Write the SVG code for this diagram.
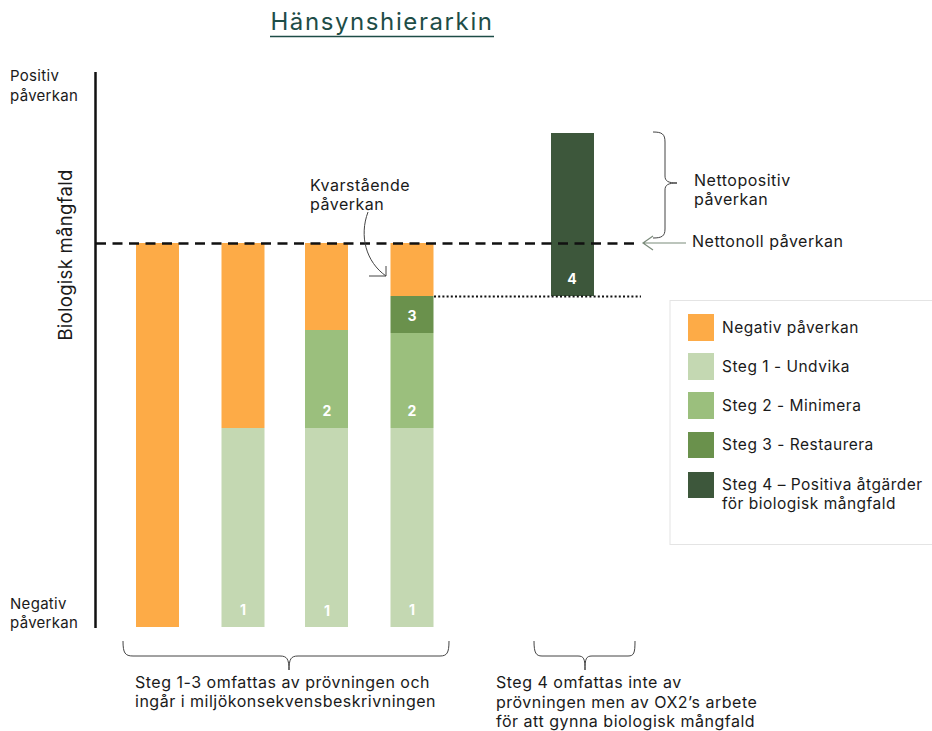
<svg xmlns="http://www.w3.org/2000/svg" width="932" height="731" viewBox="0 0 932 731">
<style>
text{font-family:Inter,"Noto Sans","Liberation Sans",sans-serif;fill:#1a1a1a}
.t{font-size:16px;letter-spacing:0.5px}
.lg{font-size:15.5px;letter-spacing:0.5px}
.ax{font-size:15px;letter-spacing:0.3px}
.num{font-size:14px;font-weight:bold;fill:#fff;text-anchor:middle}
.neg{fill:#fdab47}
.s1{fill:#c4d8b2}
.s2{fill:#9bbf7d}
.s3{fill:#6a914c}
.s4{fill:#3d573b}
.thin{fill:none;stroke:#444;stroke-width:1}
</style>
<rect width="932" height="731" fill="#fff"/>
<g id="title">
<text x="382" y="30" font-size="24" letter-spacing="1.6" text-anchor="middle" style="fill:#1e4d47">Hänsynshierarkin</text>
<line x1="270" y1="36.5" x2="494" y2="36.5" stroke="#1e4d47" stroke-width="1.5"/>
</g>
<g id="axis">
<line x1="95.5" y1="72" x2="95.5" y2="628" stroke="#111" stroke-width="2.5"/>
<text class="ax" x="10" y="81">Positiv</text>
<text class="ax" x="10" y="101">påverkan</text>
<text class="ax" x="10" y="609">Negativ</text>
<text class="ax" x="10" y="628">påverkan</text>
<text x="0" y="0" font-size="18.5" letter-spacing="0.3" text-anchor="middle" transform="translate(72,255) rotate(-90)">Biologisk mångfald</text>
</g>
<g id="bar1">
<rect class="neg" x="136" y="243" width="43" height="384"/>
</g>
<g id="bar2">
<rect class="neg" x="221.5" y="243" width="43" height="185"/>
<rect class="s1" x="221.5" y="428" width="43" height="199"/>
<text class="num" x="243" y="615">1</text>
</g>
<g id="bar3">
<rect class="neg" x="305" y="243" width="43" height="87"/>
<rect class="s2" x="305" y="330" width="43" height="98"/>
<rect class="s1" x="305" y="428" width="43" height="199"/>
<text class="num" x="327" y="416">2</text>
<text class="num" x="327" y="616">1</text>
</g>
<g id="bar4">
<rect class="neg" x="390.5" y="243" width="43" height="53"/>
<rect class="s3" x="390.5" y="296" width="43" height="37"/>
<rect class="s2" x="390.5" y="333" width="43" height="95"/>
<rect class="s1" x="390.5" y="428" width="43" height="199"/>
<text class="num" x="412" y="321">3</text>
<text class="num" x="412" y="416">2</text>
<text class="num" x="412" y="615">1</text>
</g>
<g id="bar5">
<rect class="s4" x="551" y="133" width="43" height="163"/>
<text class="num" x="572" y="284">4</text>
</g>
<g id="connectors">
<line x1="96" y1="243.5" x2="636" y2="243.5" stroke="#111" stroke-width="2.5" stroke-dasharray="10,6.5"/>
<line x1="434" y1="296.5" x2="641" y2="296.5" stroke="#111" stroke-width="2" stroke-dasharray="2,2.2"/>
<path class="thin" d="M368,212 C359,236 366,262 386,276"/>
<path class="thin" d="M369,276 L386,276 L386,266"/>
<path fill="none" stroke="#7b8b7b" stroke-width="1.2" d="M686,243 L643,243 M653,236 L643,243 L653,250"/>
<path class="thin" d="M653,132 C662,132 665,134 665,142 L665,176 C665,181 668,183 677,183 C668,183 665,185 665,190 L665,229 C665,236 662,238 653,238"/>
<path class="thin" d="M123,641 C123,653 125,656 133,656 L280,656 C287,656 289,659 289,670 C289,659 291,656 298,656 L440,656 C447,656 449,653 449,641"/>
<path class="thin" d="M534,641 C534,653 536,656 542,656 L578,656 C584,656 585,659 585,670 C585,659 586,656 592,656 L628,656 C634,656 635,653 635,641"/>
</g>
<g id="labels">
<text class="t" x="310" y="191">Kvarstående</text>
<text class="t" x="310" y="210">påverkan</text>
<text class="t" x="694" y="186">Nettopositiv</text>
<text class="t" x="694" y="205">påverkan</text>
<text class="t" x="692" y="247">Nettonoll påverkan</text>
<text class="t" x="135" y="688">Steg 1-3 omfattas av prövningen och</text>
<text class="t" x="135" y="707">ingår i miljökonsekvensbeskrivningen</text>
<text class="t" x="496" y="688">Steg 4 omfattas inte av</text>
<text class="t" x="496" y="708">prövningen men av OX2’s arbete</text>
<text class="t" x="496" y="727">för att gynna biologisk mångfald</text>
</g>
<g id="legend">
<rect x="670" y="300.5" width="270" height="244" fill="#fff" stroke="#e4e4e4" stroke-width="1"/>
<rect class="neg" x="688" y="314" width="26" height="27"/>
<rect class="s1" x="688" y="353" width="26" height="27"/>
<rect class="s2" x="688" y="392" width="26" height="27"/>
<rect class="s3" x="688" y="432" width="26" height="26"/>
<rect class="s4" x="688" y="472" width="26" height="26"/>
<text class="lg" x="722" y="333">Negativ påverkan</text>
<text class="lg" x="722" y="372">Steg 1 - Undvika</text>
<text class="lg" x="722" y="411">Steg 2 - Minimera</text>
<text class="lg" x="722" y="450">Steg 3 - Restaurera</text>
<text class="lg" x="722" y="490">Steg 4 – Positiva åtgärder</text>
<text class="lg" x="722" y="509">för biologisk mångfald</text>
</g>
</svg>
